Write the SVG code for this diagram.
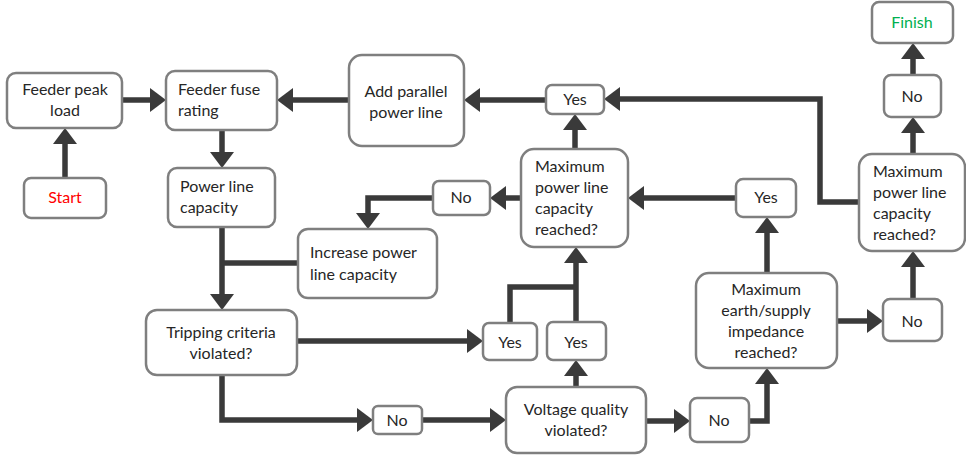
<svg xmlns="http://www.w3.org/2000/svg" width="966" height="458" viewBox="0 0 966 458">
<style>
.box{fill:#fff;stroke:#7f7f7f;stroke-width:2.5}
text{font-family:Lato,"Liberation Sans",sans-serif;font-size:16px;fill:#262626}
.c{text-anchor:middle}
.conn path{fill:none;stroke:#3a3a3a;stroke-width:5.5;stroke-linejoin:miter}
.a{marker-end:url(#ah)}
</style>
<defs>
<marker id="ah" markerUnits="userSpaceOnUse" markerWidth="17" markerHeight="24" refX="0" refY="12" orient="auto">
<path d="M0,0 L16,12 L0,24 Z" fill="#3a3a3a"/>
</marker>
</defs>
<rect width="966" height="458" fill="#fff"/>
<g class="conn" id="connectors">
<path class="a" d="M65,178 V144"/>
<path class="a" d="M122,100 H150"/>
<path class="a" d="M349,100 H293"/>
<path class="a" d="M222,130 V152"/>
<path class="a" d="M222,227 V294"/>
<path d="M298,263 H222"/>
<path class="a" d="M433,198 H368 V213"/>
<path class="a" d="M521,198 H506"/>
<path class="a" d="M575,149 V130"/>
<path class="a" d="M546,100 H480"/>
<path class="a" d="M859,202 H820 V99 H620"/>
<path class="a" d="M736,198 H644"/>
<path class="a" d="M767,273 V233"/>
<path class="a" d="M837,321 H867"/>
<path class="a" d="M913,299 V267"/>
<path class="a" d="M913,154 V133"/>
<path class="a" d="M913,75 V59"/>
<path class="a" d="M297,341 H467"/>
<path d="M510,323 V287 H576"/>
<path class="a" d="M576,322 V263"/>
<path class="a" d="M576,387 V376"/>
<path class="a" d="M222,375 V420 H357"/>
<path class="a" d="M422,420 H490"/>
<path class="a" d="M646,421 H674"/>
<path class="a" d="M749,421 H767 V384"/>
</g>
<g id="n_peak"><rect class="box" x="7" y="73" width="115" height="55" rx="9"/><text class="c" x="65" y="95">Feeder peak</text><text class="c" x="65" y="116">load</text></g>
<g id="n_fuse"><rect class="box" x="166" y="71" width="111" height="59" rx="9"/><text x="178" y="95">Feeder fuse</text><text x="178" y="116">rating</text></g>
<g id="n_parallel"><rect class="box" x="349" y="55" width="115" height="91" rx="13"/><text class="c" x="406" y="97">Add parallel</text><text class="c" x="406" y="118">power line</text></g>
<g id="n_start"><rect class="box" x="24" y="178" width="82" height="40" rx="7"/><text class="c" x="65" y="203" style="fill:#ff0000">Start</text></g>
<g id="n_plc"><rect class="box" x="168" y="168" width="107" height="59" rx="9"/><text x="180" y="192">Power line</text><text x="180" y="213">capacity</text></g>
<g id="n_increase"><rect class="box" x="298" y="229" width="139" height="69" rx="10"/><text x="310" y="258">Increase power</text><text x="310" y="280">line capacity</text></g>
<g id="n_no1"><rect class="box" x="433" y="181" width="57" height="34" rx="6"/><text class="c" x="461" y="203">No</text></g>
<g id="n_yes_top"><rect class="box" x="546" y="85" width="58" height="29" rx="6"/><text class="c" x="575" y="105">Yes</text></g>
<g id="n_max1"><rect class="box" x="521" y="149" width="107" height="98" rx="13"/><text x="535" y="172">Maximum</text><text x="535" y="193">power line</text><text x="535" y="214">capacity</text><text x="535" y="235">reached?</text></g>
<g id="n_yes_r"><rect class="box" x="736" y="179" width="60" height="38" rx="7"/><text class="c" x="766" y="203">Yes</text></g>
<g id="n_finish"><rect class="box" x="872" y="2" width="81" height="41" rx="7"/><text class="c" x="912" y="28" style="fill:#00b050">Finish</text></g>
<g id="n_no_tr"><rect class="box" x="884" y="75" width="57" height="42" rx="7"/><text class="c" x="912" y="102">No</text></g>
<g id="n_max2"><rect class="box" x="859" y="154" width="106" height="97" rx="13"/><text x="873" y="177">Maximum</text><text x="873" y="198">power line</text><text x="873" y="219">capacity</text><text x="873" y="240">reached?</text></g>
<g id="n_earth"><rect class="box" x="696" y="273" width="141" height="95" rx="13"/><text class="c" x="766" y="295">Maximum</text><text class="c" x="766" y="316">earth/supply</text><text class="c" x="766" y="337">impedance</text><text class="c" x="766" y="358">reached?</text></g>
<g id="n_no_rb"><rect class="box" x="883" y="299" width="59" height="42" rx="7"/><text class="c" x="912" y="327">No</text></g>
<g id="n_no_b"><rect class="box" x="690" y="398" width="59" height="44" rx="7"/><text class="c" x="719" y="426">No</text></g>
<g id="n_trip"><rect class="box" x="146" y="310" width="151" height="65" rx="11"/><text class="c" x="221" y="338">Tripping criteria</text><text class="c" x="221" y="359">violated?</text></g>
<g id="n_yes_a"><rect class="box" x="483" y="323" width="54" height="37" rx="6"/><text class="c" x="510" y="348">Yes</text></g>
<g id="n_yes_b"><rect class="box" x="547" y="322" width="59" height="38" rx="6"/><text class="c" x="576" y="348">Yes</text></g>
<g id="n_voltage"><rect class="box" x="506" y="387" width="140" height="66" rx="11"/><text class="c" x="576" y="415">Voltage quality</text><text class="c" x="576" y="436">violated?</text></g>
<g id="n_no_bl"><rect class="box" x="373" y="406" width="49" height="28" rx="5"/><text class="c" x="397" y="426">No</text></g>
</svg>
